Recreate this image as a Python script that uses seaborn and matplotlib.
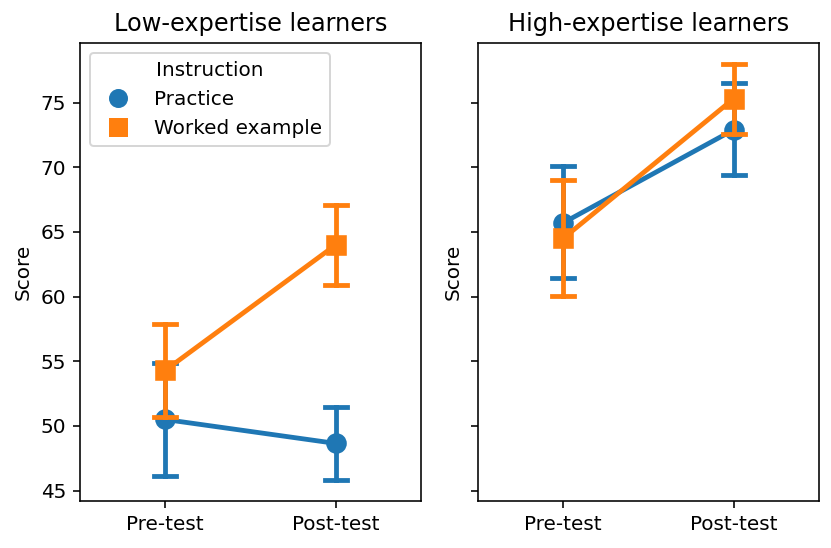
import numpy as np
import pandas as pd
import seaborn as sns
from matplotlib import pyplot as plt
from matplotlib.lines import Line2D

tests = ["Pre-test", "Post-test"]
groups = ["Practice", "Worked example"]

# (lower CI, mean, upper CI) per test
low_practice = [(46.1, 50.5, 54.9), (45.85, 48.65, 51.5)]
low_worked = [(50.7, 54.3, 57.9), (60.9, 64.0, 67.1)]
high_practice = [(61.4, 65.7, 70.1), (69.4, 72.9, 76.5)]
high_worked = [(60.05, 64.5, 69.0), (72.6, 75.3, 78.0)]

panels = {
    "Low-expertise learners": {"Practice": low_practice, "Worked example": low_worked},
    "High-expertise learners": {"Practice": high_practice, "Worked example": high_worked},
}

rows = []
for panel, series in panels.items():
    for grp, vals in series.items():
        for test, triple in zip(tests, vals):
            for v in triple:
                rows.append({"Panel": panel, "Test": test, "Instruction": grp, "Score": v})
df = pd.DataFrame(rows)

DPI = 144
fig, axes = plt.subplots(1, 2, figsize=(831 / DPI, 548 / DPI), dpi=DPI)
fig.subplots_adjust(left=80 / 831, right=819 / 831, top=1 - 43 / 548,
                    bottom=1 - 501 / 548, wspace=0.167)

markers = ["o", "s"]
palette = sns.color_palette()[:2]
for ax, panel in zip(axes, panels):
    sub = df[df["Panel"] == panel]
    sns.pointplot(data=sub, x="Test", y="Score", hue="Instruction",
                  order=tests, hue_order=groups, palette=palette,
                  estimator="median", errorbar=lambda x: (x.min(), x.max()),
                  markers=markers, markersize=8.5, linewidth=2.4,
                  capsize=0.13, ax=ax)
    ax.set_title(panel, fontsize=12)
    ax.set_xlabel("")
    ax.set_ylabel("Score")
    ax.set_ylim(44.2, 79.6)
    ax.get_legend().remove()

axes[1].tick_params(labelleft=False)

handles = [Line2D([], [], color=c, marker=m, linestyle="none", markersize=8.5)
           for c, m in zip(palette, markers)]
axes[0].legend(handles, groups, title="Instruction", loc="upper left")

plt.savefig("out.png", dpi=DPI)
